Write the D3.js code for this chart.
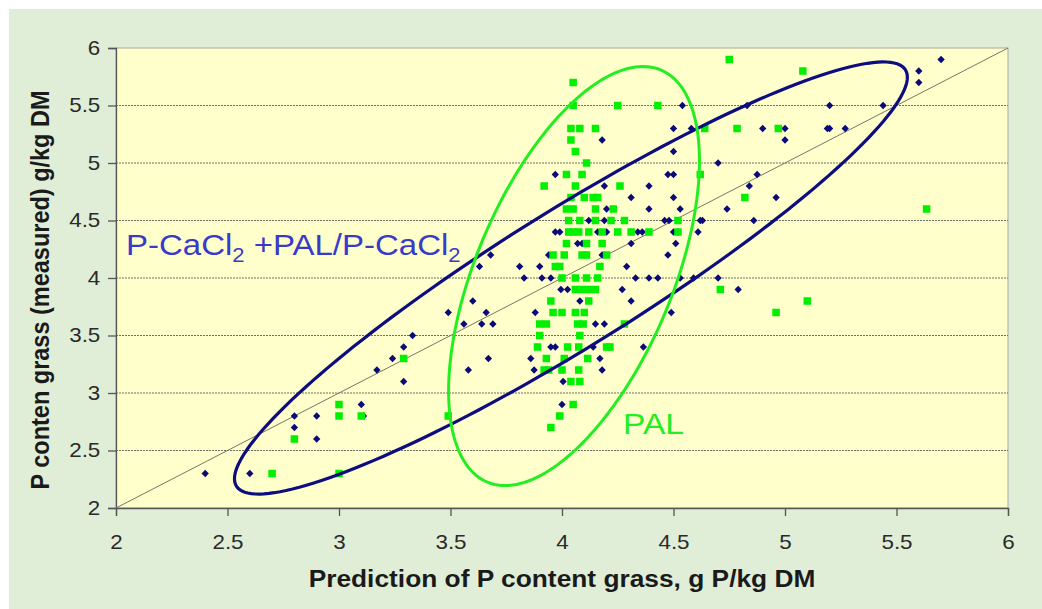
<!DOCTYPE html>
<html>
<head>
<meta charset="utf-8">
<script src="https://cdn.jsdelivr.net/npm/d3@7"></script>
<style>
  html, body { margin: 0; padding: 0; background: #ffffff; }
  svg { display: block; }
  text { font-family: "Liberation Sans", Arial, sans-serif; }
</style>
</head>
<body>
<svg id="chart" width="1042" height="609"></svg>
<script>
// Measured vs predicted P content in grass (g P/kg DM)
const xTicks = [2, 2.5, 3, 3.5, 4, 4.5, 5, 5.5, 6];
const yTicks = [2, 2.5, 3, 3.5, 4, 4.5, 5, 5.5, 6];

// P-CaCl2 + PAL/P-CaCl2 model: [predicted, measured]
const caclPoints = [
  [2.4,2.3],[2.6,2.3],[2.8,2.8],[2.8,2.7],[2.9,2.8],[2.9,2.6],[3.1,2.9],[3.11,2.8],
  [3.17,3.2],[3.24,3.3],[3.29,3.4],[3.33,3.5],[3.29,3.1],
  [3.49,3.7],[3.56,3.6],[3.58,3.2],[3.60,3.8],[3.63,4.1],[3.64,3.6],[3.66,3.7],[3.67,3.3],[3.68,4.2],[3.69,3.6],
  [3.81,4.1],[3.83,4.0],[3.86,3.3],[3.875,3.2],[3.88,3.7],[3.90,4.1],[3.91,4.0],[3.94,4.2],[3.95,4.0],
  [3.95,3.4],[3.97,3.4],[3.97,4.9],[3.97,4.4],[3.99,4.4],[3.995,3.9],[4.0,2.9],[4.005,3.1],[4.025,3.9],
  [4.07,4.3],[4.09,4.3],[4.08,3.8],[4.12,4.5],[4.14,3.4],[4.15,3.6],[4.16,4.4],[4.17,3.3],[4.18,3.2],
  [4.18,4.2],[4.18,5.2],[4.19,4.8],[4.19,4.5],[4.19,3.6],[4.20,4.6],[4.20,4.4],[4.27,3.9],[4.29,4.1],
  [4.31,4.7],[4.31,4.3],[4.31,3.8],[4.33,4.0],[4.34,4.4],[4.36,4.4],[4.365,3.4],[4.39,4.8],[4.39,4.6],
  [4.39,4.0],[4.43,4.0],[4.46,4.5],[4.475,4.9],[4.475,4.2],[4.48,4.5],[4.49,3.7],[4.50,5.3],[4.50,5.1],
  [4.50,4.9],[4.50,4.7],[4.50,4.4],[4.51,4.3],[4.52,4.4],[4.53,4.6],[4.53,4.0],[4.54,5.5],[4.58,5.3],
  [4.59,4.0],[4.61,4.4],[4.62,4.5],[4.63,4.5],[4.70,5.0],[4.70,4.0],[4.74,4.6],[4.79,3.9],[4.83,5.5],
  [4.84,4.8],[4.86,4.5],[4.875,4.9],[4.90,5.3],[4.96,4.7],[5.0,5.3],[5.0,5.2],[5.19,5.3],[5.2,5.3],
  [5.2,5.5],[5.27,5.3],[5.44,5.5],[5.6,5.8],[5.6,5.7],[5.7,5.9]
];

// PAL model: [predicted, measured]
const palPoints = [
  [2.7,2.3],[2.8,2.6],[3.0,2.3],[3.0,2.9],[3.0,2.8],[3.1,2.8],[3.29,3.3],[3.49,2.8],
  [3.89,3.4],[3.90,3.6],[3.90,3.5],[3.92,3.2],[3.92,4.8],[3.93,3.6],[3.93,3.3],[3.94,3.2],[3.95,3.8],
  [3.95,2.7],[3.96,3.7],[3.96,4.2],[3.97,4.1],[3.99,4.1],[3.99,2.8],[4.0,3.7],[4.0,4.0],[4.0,3.2],
  [4.01,4.2],[4.01,3.3],[4.02,4.9],[4.02,4.6],[4.02,4.3],[4.03,4.5],[4.03,4.4],[4.025,3.4],[4.04,5.3],
  [4.04,5.2],[4.04,4.7],[4.04,3.1],[4.05,4.6],[4.05,4.4],[4.05,5.5],[4.05,5.7],[4.05,2.9],[4.06,5.1],
  [4.06,4.8],[4.06,4.0],[4.06,3.9],[4.06,3.7],[4.075,4.4],[4.07,3.6],[4.075,3.4],[4.075,3.2],[4.08,4.5],
  [4.08,3.5],[4.08,3.1],[4.08,5.3],[4.09,4.9],[4.09,4.2],[4.09,3.9],[4.095,3.6],[4.10,4.7],[4.10,3.7],
  [4.11,5.0],[4.11,4.3],[4.11,4.2],[4.11,4.0],[4.115,3.3],[4.12,4.4],[4.12,3.9],[4.12,3.8],[4.14,4.7],
  [4.15,5.3],[4.15,4.6],[4.15,4.5],[4.15,3.9],[4.16,4.7],[4.16,4.0],[4.17,4.1],[4.18,4.4],[4.18,4.3],
  [4.20,4.2],[4.20,3.4],[4.215,3.4],[4.22,4.5],[4.23,4.6],[4.25,4.4],[4.25,5.5],[4.26,4.8],[4.28,4.5],
  [4.28,3.6],[4.31,4.4],[4.39,4.4],[4.43,5.5],[4.52,4.5],[4.52,4.4],[4.62,4.9],[4.64,5.3],[4.71,3.9],
  [4.75,5.9],[4.785,5.3],[4.82,4.7],[4.96,3.7],[4.97,5.3],[5.08,5.8],[5.10,3.8],[5.635,4.6]
];

// Group outlines in data units: [centerX, centerY, axis1X, axis1Y, axis2X, axis2Y]
const caclEllipse = [4.04, 4.0, 1.50, 1.81, 0.162, -0.504];
const palEllipse = [4.054, 4.017, 0.309, 1.822, 0.470, 0.0];

const onetoone = [[2, 2], [6, 6]];

const svg = d3.select("#chart");
const W = 1042, H = 609;
const margin = { left: 116, right: 34, top: 48, bottom: 101 };
const stretch = 1.12; // horizontal text stretch of the slide

svg.append("rect").attr("x", 9).attr("y", 9).attr("width", W - 9).attr("height", H - 9)
  .attr("fill", "#e0eed8");

const x = d3.scaleLinear().domain([2, 6]).range([margin.left, W - margin.right]);
const y = d3.scaleLinear().domain([2, 6]).range([H - margin.bottom, margin.top]);

// plot area
svg.append("rect")
  .attr("x", x(2)).attr("y", y(6))
  .attr("width", x(6) - x(2)).attr("height", y(2) - y(6))
  .attr("fill", "#ffffcc").attr("stroke", "#a8a8a0").attr("stroke-width", 1);

// dotted horizontal gridlines
svg.append("g").selectAll("line")
  .data(yTicks.filter(v => v > 2 && v < 6))
  .join("line")
  .attr("x1", x(2)).attr("x2", x(6))
  .attr("y1", d => y(d)).attr("y2", d => y(d))
  .attr("stroke", "#6e6e66").attr("stroke-width", 1).attr("stroke-dasharray", "2,1");

// axes
const xAxis = svg.append("g").attr("transform", `translate(0,${y(2)})`)
  .call(d3.axisBottom(x).tickValues(xTicks).tickFormat(d3.format("")).tickSize(8).tickPadding(19));
const yAxis = svg.append("g").attr("transform", `translate(${x(2)},0)`)
  .call(d3.axisLeft(y).tickValues(yTicks).tickFormat(d3.format("")).tickSize(8).tickPadding(6));
[xAxis, yAxis].forEach(g => {
  g.select(".domain").attr("stroke", "#555").attr("stroke-width", 1.3);
  g.selectAll(".tick line").attr("stroke", "#555").attr("stroke-width", 1.3);
  g.selectAll(".tick text").attr("fill", "#2a2a2a").style("font-size", "20px")
    .style("font-family", "'Liberation Sans', Arial, sans-serif")
    .attr("transform", `scale(${stretch},1)`);
});

// 1:1 line
svg.append("line")
  .attr("x1", x(onetoone[0][0])).attr("y1", y(onetoone[0][1]))
  .attr("x2", x(onetoone[1][0])).attr("y2", y(onetoone[1][1]))
  .attr("stroke", "#77776a").attr("stroke-width", 1);

// points
svg.append("g").selectAll("path")
  .data(caclPoints)
  .join("path")
  .attr("transform", d => `translate(${x(d[0])},${y(d[1])})`)
  .attr("d", d3.symbol(d3.symbolDiamond2, 34)())
  .attr("fill", "#0a0a78");

svg.append("g").selectAll("rect")
  .data(palPoints)
  .join("rect")
  .attr("x", d => x(d[0]) - 3.75).attr("y", d => y(d[1]) - 3.75)
  .attr("width", 7.5).attr("height", 7.5)
  .attr("fill", "#00f000");

// ellipses
function ellipsePath(p) {
  const steps = d3.range(0, 180);
  return d3.line().curve(d3.curveLinearClosed)(steps.map(i => {
    const t = i / 180 * 2 * Math.PI;
    return [x(p[0] + p[2] * Math.cos(t) + p[4] * Math.sin(t)),
            y(p[1] + p[3] * Math.cos(t) + p[5] * Math.sin(t))];
  }));
}
svg.append("path").attr("d", ellipsePath(caclEllipse))
  .attr("fill", "none").attr("stroke", "#0d0d80").attr("stroke-width", 3.2);
svg.append("path").attr("d", ellipsePath(palEllipse))
  .attr("fill", "none").attr("stroke", "#22ee22").attr("stroke-width", 3);

// group labels
const lab = svg.append("text").attr("transform", `translate(126,255) scale(1.1,1)`)
  .attr("fill", "#3a3ac8").style("font-size", "30px");
lab.append("tspan").text("P-CaCl");
lab.append("tspan").attr("dy", 7).style("font-size", "20px").text("2");
lab.append("tspan").attr("dy", -7).text(" +PAL/P-CaCl");
lab.append("tspan").attr("dy", 7).style("font-size", "20px").text("2");

svg.append("text").attr("transform", `translate(623,434) scale(${stretch},1)`)
  .attr("fill", "#22ee22").style("font-size", "30px").text("PAL");

// axis titles
svg.append("text")
  .attr("transform", `translate(${(x(2) + x(6)) / 2},587) scale(${stretch},1)`)
  .attr("text-anchor", "middle").attr("fill", "#1a1a1a")
  .style("font-size", "23.5px").style("font-weight", "bold")
  .text("Prediction of P content grass, g P/kg DM");

svg.append("text")
  .attr("transform", `translate(49,${(y(2) + y(6)) / 2 + 12}) rotate(-90) scale(1,${stretch})`)
  .attr("text-anchor", "middle").attr("fill", "#1a1a1a")
  .style("font-size", "23.5px").style("font-weight", "bold")
  .text("P conten grass (measured) g/kg DM");
</script>
</body>
</html>
